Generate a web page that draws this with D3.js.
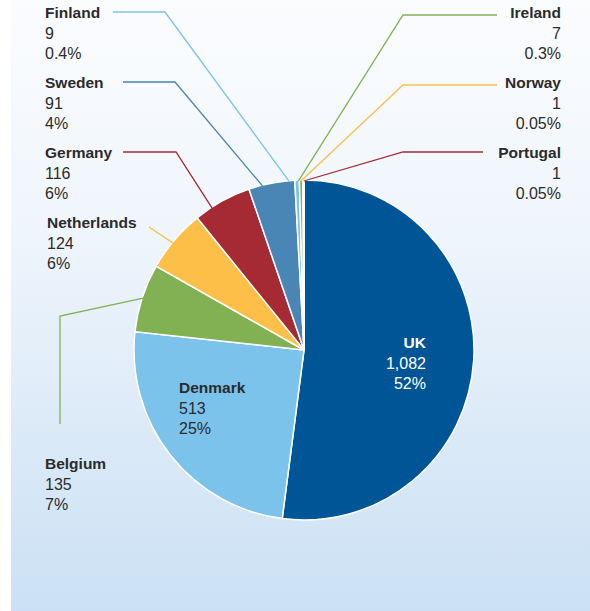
<!DOCTYPE html>
<html>
<head>
<meta charset="utf-8">
<script src="https://cdn.jsdelivr.net/npm/d3@7"></script>
<style>
  body { margin: 0; background: #fff; }
  text { font-family: "Liberation Sans", Arial, sans-serif; font-size: 16px; }
</style>
</head>
<body>
<script>
// data
var countries = ["UK", "Denmark", "Belgium", "Netherlands", "Germany", "Sweden", "Finland", "Ireland", "Norway", "Portugal"];
var values = [1082, 513, 135, 124, 116, 91, 9, 7, 1, 1];
var valueLabels = ["1,082", "513", "135", "124", "116", "91", "9", "7", "1", "1"];
var shareLabels = ["52%", "25%", "7%", "6%", "6%", "4%", "0.4%", "0.3%", "0.05%", "0.05%"];
var colors = ["#005596", "#7bc3ea", "#82b153", "#fdbf47", "#a52a34", "#4a86b5", "#7bc3ea", "#82b153", "#fdbf47", "#a52a34"];

var w = 590, h = 611;
var cx = 304, cy = 350, r = 170;

// label layout: x, first baseline, anchor, text colour, leader elbow points, where on the slice the leader ends (0..1)
var layout = [
  {x: 426, y: 348, anchor: "end", fill: "#fff", leader: null},
  {x: 179, y: 393, anchor: "start", fill: "#2b2b2b", leader: null},
  {x: 45, y: 469, anchor: "start", fill: "#2b2b2b", leader: [[60, 424], [60, 316]], f: 0.5},
  {x: 47, y: 228, anchor: "start", fill: "#2b2b2b", leader: [[149, 227]], f: 0.45},
  {x: 45, y: 158, anchor: "start", fill: "#2b2b2b", leader: [[123, 152], [176, 152]], f: 0.3},
  {x: 45, y: 88, anchor: "start", fill: "#2b2b2b", leader: [[123, 82], [175, 82]], f: 0.3},
  {x: 45, y: 18, anchor: "start", fill: "#2b2b2b", leader: [[113, 12], [165, 12]], f: -1.2},
  {x: 561, y: 18, anchor: "end", fill: "#2b2b2b", leader: [[497, 15], [403, 15]], f: -0.3},
  {x: 561, y: 88, anchor: "end", fill: "#2b2b2b", leader: [[497, 85], [403, 85]], f: -4},
  {x: 561, y: 158, anchor: "end", fill: "#2b2b2b", leader: [[483, 152], [403, 152]], f: 0.5}
];

var svg = d3.select("body")
  .append("svg")
  .attr("width", w)
  .attr("height", h);

var grad = svg.append("defs").append("linearGradient")
  .attr("id", "bg")
  .attr("x1", 0).attr("y1", 0).attr("x2", 0).attr("y2", 1);
grad.append("stop").attr("offset", "0%").attr("stop-color", "#fbfcfe");
grad.append("stop").attr("offset", "35%").attr("stop-color", "#f0f6fc");
grad.append("stop").attr("offset", "100%").attr("stop-color", "#cbe0f4");

svg.append("rect")
  .attr("x", 11).attr("y", 0)
  .attr("width", w - 11).attr("height", h)
  .attr("fill", "url(#bg)");

var pie = d3.pie().sort(null).value(function(d) { return d; });
var arcs = pie(values);
var arc = d3.arc().innerRadius(0).outerRadius(r);

var g = svg.append("g").attr("transform", "translate(" + cx + "," + cy + ")");

g.selectAll("path")
  .data(arcs)
  .enter()
  .append("path")
  .attr("d", arc)
  .attr("fill", function(d, i) { return colors[i]; })
  .attr("stroke", "#fff")
  .attr("stroke-width", 1.5);

// leader lines
arcs.forEach(function(d, i) {
  var L = layout[i];
  if (!L.leader) return;
  var a = d.startAngle + (d.endAngle - d.startAngle) * L.f;
  var end = [cx + Math.sin(a) * (r - 1), cy - Math.cos(a) * (r - 1)];
  var pts = L.leader.concat([end]);
  svg.append("path")
    .attr("d", d3.line()(pts))
    .attr("fill", "none")
    .attr("stroke", colors[i])
    .attr("stroke-width", 1.3);
});

// labels
countries.forEach(function(c, i) {
  var L = layout[i];
  var t = svg.append("text")
    .attr("x", L.x)
    .attr("y", L.y)
    .attr("text-anchor", L.anchor)
    .attr("fill", L.fill);
  t.append("tspan").attr("x", L.x).attr("font-weight", "bold").attr("font-size", "15.5px").text(c);
  t.append("tspan").attr("x", L.x).attr("dy", 20.5).text(valueLabels[i]);
  t.append("tspan").attr("x", L.x).attr("dy", 20.5).text(shareLabels[i]);
});
</script>
</body>
</html>
